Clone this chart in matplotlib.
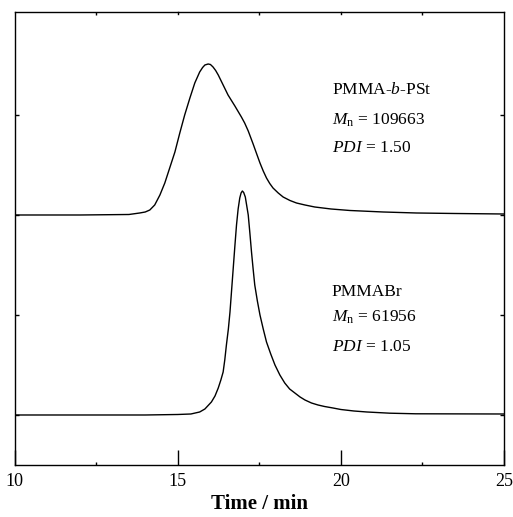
import matplotlib
matplotlib.use("Agg")
import matplotlib.pyplot as plt
from matplotlib.ticker import MultipleLocator

plt.rcParams['font.family'] = 'Liberation Serif'
plt.rcParams['mathtext.fontset'] = 'custom'
plt.rcParams['mathtext.rm'] = 'Liberation Serif'
plt.rcParams['mathtext.it'] = 'Liberation Serif:italic'
plt.rcParams['mathtext.bf'] = 'Liberation Serif:bold'

# GPC trace of the block copolymer (offset by 2 on the y axis)
t_block = [10.0, 12.0, 13.5, 13.83, 14.0, 14.14, 14.29, 14.45, 14.60, 14.75, 14.91,
           15.06, 15.21, 15.37, 15.52, 15.67, 15.76, 15.83, 15.93, 16.0, 16.08,
           16.16, 16.24, 16.39, 16.54, 16.75, 16.95, 17.05, 17.16, 17.31, 17.42,
           17.52, 17.62, 17.72, 17.82, 17.92, 18.08, 18.23, 18.44, 18.64, 18.9,
           19.2, 19.7, 20.28, 21.3, 22.32, 23.5, 25.0]
s_block = [2.0, 2.0, 2.005, 2.02, 2.03, 2.05, 2.10, 2.20, 2.32, 2.47, 2.63,
           2.82, 3.00, 3.17, 3.32, 3.43, 3.475, 3.50, 3.51, 3.505, 3.48,
           3.445, 3.40, 3.30, 3.20, 3.09, 2.98, 2.92, 2.84, 2.71, 2.61,
           2.52, 2.44, 2.37, 2.315, 2.27, 2.22, 2.18, 2.145, 2.12, 2.10,
           2.08, 2.06, 2.045, 2.03, 2.02, 2.015, 2.01]

# GPC trace of the macroinitiator
t_macro = [10.0, 12.0, 14.0, 15.0, 15.4, 15.67, 15.83, 16.03, 16.14, 16.24, 16.32,
           16.39, 16.44, 16.49, 16.55, 16.60, 16.65, 16.70, 16.75, 16.80, 16.85,
           16.90, 16.94, 16.98, 17.02, 17.07, 17.11, 17.16, 17.21, 17.26, 17.31,
           17.36, 17.44, 17.52, 17.62, 17.72, 17.85, 17.98, 18.13, 18.28, 18.43,
           18.59, 18.75, 18.9, 19.1, 19.3, 19.5, 19.76, 20.0, 20.4, 20.8, 21.5,
           22.3, 25.0]
s_macro = [0.0, 0.0, 0.0, 0.005, 0.01, 0.03, 0.06, 0.13, 0.19, 0.27, 0.35,
           0.43, 0.55, 0.70, 0.86, 1.03, 1.25, 1.47, 1.69, 1.90, 2.06,
           2.17, 2.22, 2.24, 2.225, 2.18, 2.10, 2.00, 1.82, 1.63, 1.46,
           1.30, 1.14, 1.00, 0.86, 0.73, 0.61, 0.50, 0.40, 0.32, 0.26,
           0.22, 0.18, 0.15, 0.12, 0.10, 0.085, 0.07, 0.055, 0.04, 0.03, 0.018,
           0.012, 0.01]

block_lines = ['PMMA-$b$-PSt', r'$M_{\mathrm{n}}$ = 109663', '$PDI$ = 1.50']
macro_lines = ['PMMABr', r'$M_{\mathrm{n}}$ = 61956', '$PDI$ = 1.05']

fig = plt.figure(figsize=(5.13, 5.17), dpi=100)
ax = fig.add_axes([0.029, 0.1006, 0.953, 0.8762])

ax.plot(t_block, s_block, color='black', lw=1.0, solid_joinstyle='round')
ax.plot(t_macro, s_macro, color='black', lw=1.0, solid_joinstyle='round')

ax.set_xlim(10, 25)
ax.set_ylim(-0.5, 4.03)
ax.set_xticks([10, 15, 20, 25])
ax.xaxis.set_minor_locator(MultipleLocator(2.5))
ax.set_yticks([0, 1, 2, 3])
ax.set_yticklabels([])
ax.tick_params(axis='x', which='major', direction='in', length=11, width=1.0,
               top=False, labelsize=13, pad=6)
ax.tick_params(axis='x', which='minor', direction='in', length=2, width=1.0, top=True)
ax.tick_params(axis='y', direction='in', length=3, width=1.0, right=True)
for sp in ax.spines.values():
    sp.set_linewidth(1.0)

# short ticks on the top edge at the major positions too
for xv in [15, 20]:
    ax.plot([xv, xv], [4.03, 4.01], color='black', lw=1.0, clip_on=False)

ax.set_xlabel('Time / min', fontsize=15, fontweight='bold', labelpad=3)

for txt, yv in zip(block_lines, [3.21, 2.90, 2.63]):
    ax.text(19.72, yv, txt, fontsize=12.5, va='baseline', ha='left')
for txt, yv in zip(macro_lines, [1.19, 0.93, 0.64]):
    ax.text(19.72, yv, txt, fontsize=12.5, va='baseline', ha='left')

fig.savefig('out.png', dpi=100)
